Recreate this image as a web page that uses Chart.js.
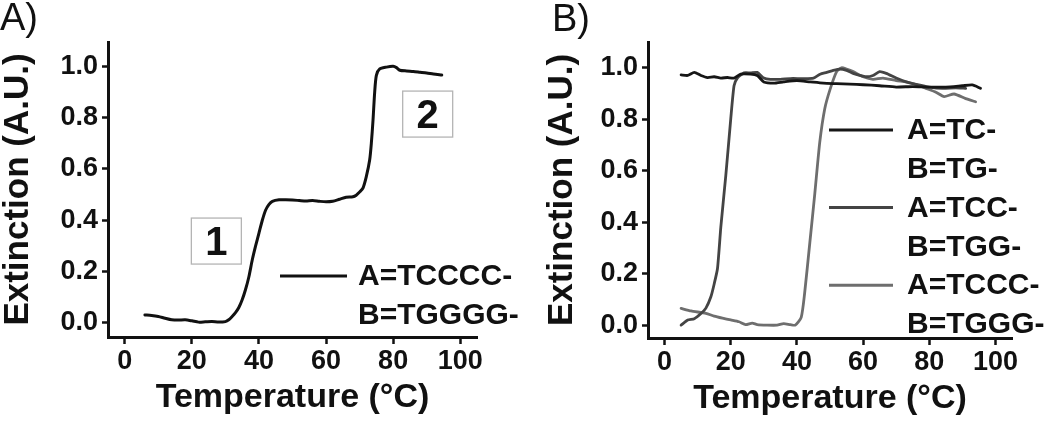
<!DOCTYPE html>
<html><head><meta charset="utf-8">
<script src="https://cdn.jsdelivr.net/npm/chart.js@4.4.1/dist/chart.umd.min.js"></script>
<style>
html,body{margin:0;padding:0;background:#fff;}
#wrap{position:relative;width:1050px;height:425px;overflow:hidden;background:#fff;}
#cA{position:absolute;left:0;top:0;}
#cB{position:absolute;left:520px;top:0;}
</style></head><body>
<div id="wrap"><canvas id="cA" width="545" height="425"></canvas><canvas id="cB" width="530" height="425"></canvas></div>
<script>
// ---------- data ----------
const tempA = [6,8,10,12,14,16,18,20,22,24,26,28,30,31,32,33,34,35,36,37,38,39,40,41,42,43,44,46,48,50,52,54,56,58,60,62,64,66,68,69,70,71,72,73,73.5,74,74.5,75,76,78,80,81,82,84,86,88,90,92,94.5];
const extA  = [0.031,0.029,0.025,0.018,0.012,0.011,0.012,0.008,0.003,0.004,0.005,0.003,0.005,0.012,0.025,0.04,0.06,0.09,0.13,0.18,0.245,0.30,0.35,0.40,0.44,0.462,0.474,0.48,0.48,0.479,0.477,0.475,0.477,0.474,0.472,0.474,0.482,0.49,0.492,0.498,0.51,0.525,0.57,0.635,0.70,0.79,0.90,0.965,0.99,0.997,1.0,0.995,0.985,0.982,0.98,0.977,0.974,0.97,0.966];

const tempTC = [5,7,9,11,13,15,17,19,21,23,26,28,30,33,36,40,44,48,52,56,60,65,70,75,80,85,90,93,95.5];
const extTC  = [0.972,0.97,0.982,0.97,0.962,0.965,0.96,0.962,0.96,0.975,0.975,0.97,0.945,0.94,0.945,0.95,0.945,0.94,0.938,0.936,0.934,0.93,0.925,0.927,0.925,0.925,0.93,0.933,0.92];

const tempTCC = [5,7,9,11,12.5,14,15,16,17,18.5,20,21,22,24,26,28,30,32,35,38,42,45,47,49,51,53,55,57,59,61,63,65,67,70,73,76,80,84,88,91];
const extTCC  = [0.0,0.02,0.025,0.045,0.066,0.11,0.16,0.22,0.38,0.58,0.80,0.93,0.96,0.98,0.98,0.982,0.96,0.955,0.955,0.958,0.958,0.96,0.975,0.982,0.99,0.995,0.99,0.978,0.97,0.965,0.97,0.985,0.978,0.96,0.945,0.935,0.925,0.92,0.922,0.92];

const tempTCCC = [5,8,12.5,15,17.5,20,22.5,24.5,26.5,28,31,34,36,38,39.5,41.3,42.3,43.9,45.4,46.9,48.4,50,52,53.5,55,57,60,63,66,70,73,76,79,82,84.5,87.5,91,94];
const extTCCC  = [0.065,0.055,0.046,0.035,0.027,0.02,0.013,0.002,0.008,0.002,0.0,0.0,0.006,0.002,0.0,0.03,0.12,0.32,0.51,0.71,0.84,0.915,0.985,1.0,0.995,0.985,0.965,0.955,0.96,0.95,0.945,0.935,0.92,0.905,0.888,0.898,0.88,0.868];

const xTicks = [0,20,40,60,80,100];
const xTickLabels = ['0','20','40','60','80','100'];
const yTicks = [0,0.2,0.4,0.6,0.8,1.0];
const yTickLabels = ['0.0','0.2','0.4','0.6','0.8','1.0'];

const seriesLabelsA = [['A=TCCCC-','B=TGGGG-']];
const seriesLabelsB = [['A=TC-','B=TG-'],['A=TCC-','B=TGG-'],['A=TCCC-','B=TGGG-']];
const boxLabels = ['1','2'];
const boxX = [27.3, 90.3];
const boxY = [0.319, 0.814];

const xTitle = 'Temperature (°C)';
const yTitle = 'Extinction (A.U.)';

// ---------- helpers ----------
const FONT = "'Liberation Sans', Arial, sans-serif";
function pts(xs, ys){ return xs.map((x,i)=>({x:x, y:ys[i]})); }

const legendPlugin = {
  id: 'customLegend',
  afterDraw(chart, args, opts){
    const ctx = chart.ctx;
    ctx.save();
    ctx.font = 'bold 30px ' + FONT;
    ctx.textBaseline = 'middle';
    ctx.textAlign = 'left';
    chart.data.datasets.forEach((ds, i) => {
      const lines = ds.label.split('\n');
      const y0 = opts.firstY + i * lines.length * opts.step;
      ctx.strokeStyle = ds.borderColor;
      ctx.lineWidth = 3;
      ctx.beginPath(); ctx.moveTo(opts.x0, y0); ctx.lineTo(opts.x1, y0); ctx.stroke();
      ctx.fillStyle = '#111';
      lines.forEach((t, j) => ctx.fillText(t, opts.tx, y0 + j * opts.step + 1));
    });
    ctx.restore();
  }
};

const boxPlugin = {
  id: 'boxes',
  afterDraw(chart, args, opts){
    if (!opts.labels) return;
    const ctx = chart.ctx, xs = chart.scales.x, ys = chart.scales.y;
    ctx.save();
    opts.labels.forEach((lab, i) => {
      const cx = xs.getPixelForValue(opts.xs[i]);
      const cy = ys.getPixelForValue(opts.ys[i]);
      ctx.strokeStyle = '#b4b4b4';
      ctx.lineWidth = 1.3;
      ctx.strokeRect(cx - 25, cy - 23, 50, 46);
      ctx.fillStyle = '#111';
      ctx.font = 'bold 40px ' + FONT;
      ctx.textAlign = 'center';
      ctx.textBaseline = 'alphabetic';
      ctx.fillText(lab, cx, cy + 14);
    });
    ctx.restore();
  }
};

const panelLabelPlugin = {
  id: 'panelLabel',
  afterDraw(chart, args, opts){
    const ctx = chart.ctx;
    ctx.save();
    ctx.font = '38px ' + FONT;
    ctx.fillStyle = '#111';
    ctx.textBaseline = 'alphabetic';
    ctx.textAlign = 'left';
    ctx.fillText(opts.text, opts.x, opts.y);
    ctx.restore();
  }
};

function makeOptions(cfg){
  return {
    responsive: false,
    animation: false,
    devicePixelRatio: 1,
    layout: { padding: { left: 0, top: cfg.top, right: cfg.right, bottom: 0 } },
    plugins: {
      legend: { display: false },
      tooltip: { enabled: false },
      customLegend: cfg.legend,
      boxes: cfg.boxes || {},
      panelLabel: cfg.panel
    },
    elements: { point: { radius: 0 }, line: { borderCapStyle: 'round', borderJoinStyle: 'round' } },
    scales: {
      x: {
        type: 'linear', min: -5, max: 105,
        afterFit: s => { s.height = cfg.xh; },
        afterBuildTicks: s => { s.ticks = xTicks.map(v => ({ value: v })); },
        ticks: { color: '#111', font: { family: FONT, size: 27, weight: 'bold' }, padding: 1,
          maxRotation: 0, autoSkip: false,
          callback: (v) => { const k = xTicks.indexOf(v); return k >= 0 ? xTickLabels[k] : ''; } },
        grid: { display: true, drawOnChartArea: false, drawTicks: true, tickLength: 7, tickWidth: 2.5, tickColor: '#111' },
        border: { display: true, width: 3, color: '#111' },
        title: { display: true, text: xTitle, color: '#111', font: { family: FONT, size: 34, weight: 'bold', lineHeight: 1 }, padding: { top: 0, bottom: cfg.xtp } }
      },
      y: {
        type: 'linear', min: cfg.ymin, max: cfg.ymax,
        afterFit: s => { s.width = cfg.yw; },
        afterBuildTicks: s => { s.ticks = yTicks.map(v => ({ value: v })); },
        ticks: { color: '#111', font: { family: FONT, size: 27, weight: 'bold' }, padding: 4,
          autoSkip: false,
          callback: (v) => { const k = yTicks.indexOf(v); return k >= 0 ? yTickLabels[k] : ''; } },
        grid: { display: true, drawOnChartArea: false, drawTicks: true, tickLength: 6, tickWidth: 2.5, tickColor: '#111' },
        border: { display: true, width: 3, color: '#111' },
        title: { display: true, text: yTitle, color: '#111', font: { family: FONT, size: 35, weight: 'bold', lineHeight: 1 }, padding: { top: cfg.ytp, bottom: 0 } }
      }
    }
  };
}

new Chart(document.getElementById('cA'), {
  type: 'scatter',
  data: { datasets: [
    { label: seriesLabelsA[0].join('\n'), data: pts(tempA, extA), showLine: true, borderColor: '#111', borderWidth: 3, tension: 0.25 }
  ]},
  options: makeOptions({ top: 42, right: 545 - 477, xh: 88, yw: 108, ymin: -0.055, ymax: 1.095, xtp: 10, ytp: 1,
    legend: { x0: 280, x1: 347, tx: 358, firstY: 276, step: 38.5 },
    boxes: { labels: boxLabels, xs: boxX, ys: boxY },
    panel: { text: 'A)', x: 0, y: 30 } }),
  plugins: [legendPlugin, boxPlugin, panelLabelPlugin]
});

new Chart(document.getElementById('cB'), {
  type: 'scatter',
  data: { datasets: [
    { label: seriesLabelsB[0].join('\n'), data: pts(tempTC, extTC), showLine: true, borderColor: '#161616', borderWidth: 2.8, tension: 0.2 },
    { label: seriesLabelsB[1].join('\n'), data: pts(tempTCC, extTCC), showLine: true, borderColor: '#444444', borderWidth: 2.8, tension: 0.2 },
    { label: seriesLabelsB[2].join('\n'), data: pts(tempTCCC, extTCCC), showLine: true, borderColor: '#6e6e6e', borderWidth: 2.8, tension: 0.2 }
  ]},
  options: makeOptions({ top: 42, right: 530 - 492, xh: 87, yw: 128, ymin: -0.05, ymax: 1.10, xtp: 9, ytp: 25,
    legend: { x0: 309, x1: 373, tx: 387, firstY: 130, step: 38.8 },
    panel: { text: 'B)', x: 32, y: 31 } }),
  plugins: [legendPlugin, panelLabelPlugin]
});
</script>
</body></html>
